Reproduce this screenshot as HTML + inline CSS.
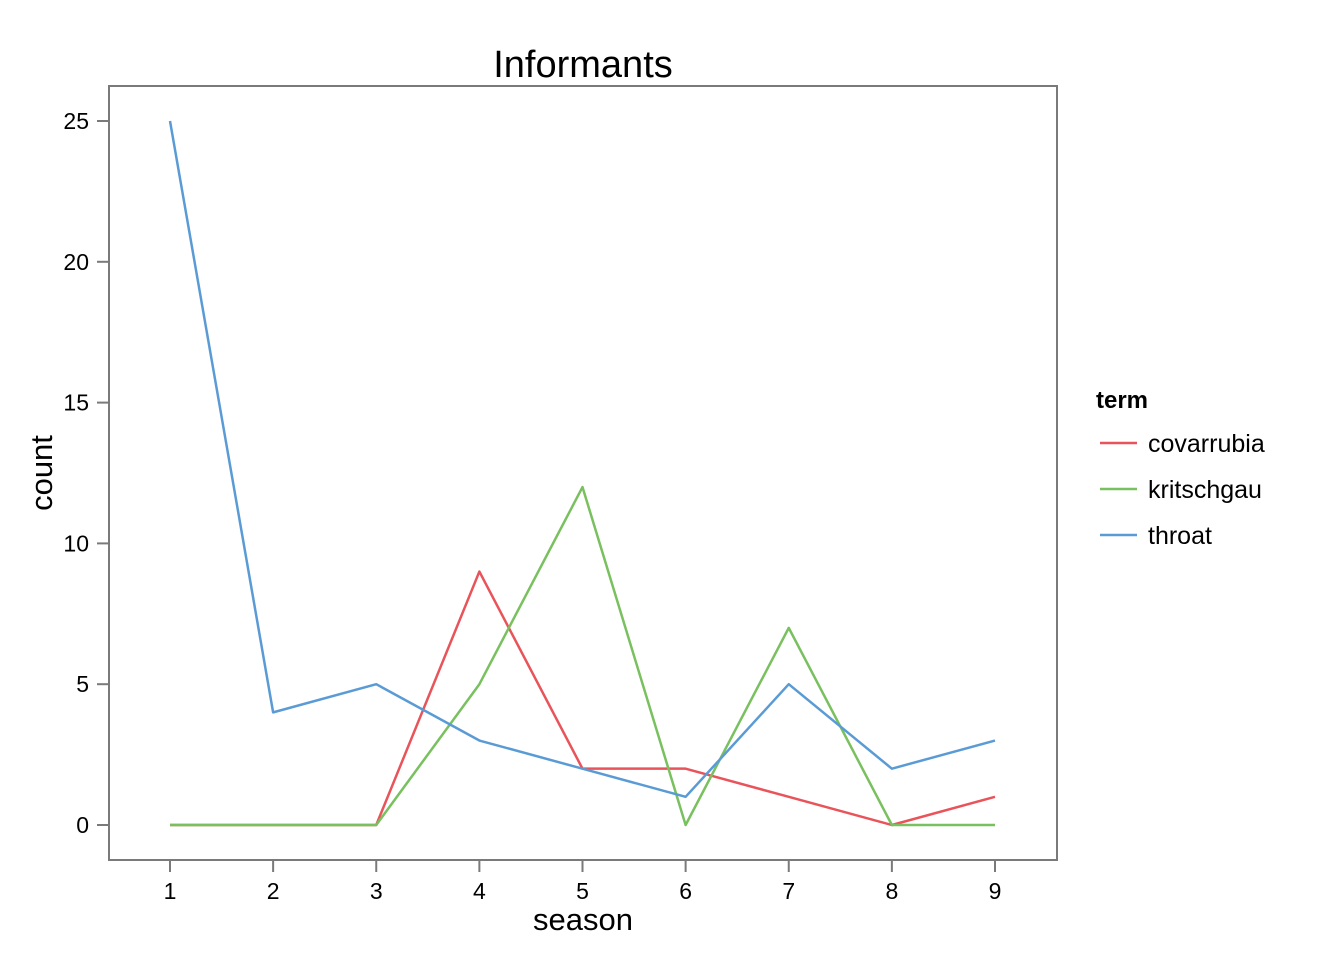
<!DOCTYPE html>
<html><head><meta charset="utf-8"><style>
html,body{margin:0;padding:0;background:#fff;}
svg{display:block;font-family:"Liberation Sans",sans-serif;}
</style></head><body>
<svg id="chart" width="1344" height="960" viewBox="0 0 1344 960">
<text x="583" y="77" font-size="38" text-anchor="middle">Informants</text>
<rect x="109" y="86" width="948" height="774" fill="none" stroke="#7a7a7a" stroke-width="2"/>
<g id="axes"></g>
<g id="series"></g>
<text x="583" y="930" font-size="31" text-anchor="middle">season</text>
<text transform="translate(52,473) rotate(-90)" font-size="31" text-anchor="middle">count</text>
<g id="legend"></g>
</svg>
<script>
const seasons = [1,2,3,4,5,6,7,8,9];
const covarrubia = [0,0,0,9,2,2,1,0,1];
const kritschgau = [0,0,0,5,12,0,7,0,0];
const throat = [25,4,5,3,2,1,5,2,3];
const yTicks = [0,5,10,15,20,25];
const seriesNames = ["covarrubia","kritschgau","throat"];
const seriesColors = ["#e8545a","#79c05f","#5a9bd5"];

const NS="http://www.w3.org/2000/svg";
function xs(v){return 170+(v-1)*(995-170)/8;}
function ys(v){return 825-v*(825-121)/25;}
function mk(tag,attrs,parent){const e=document.createElementNS(NS,tag);for(const k in attrs)e.setAttribute(k,attrs[k]);parent.appendChild(e);return e;}
const axes=document.getElementById('axes');
yTicks.forEach(t=>{
  const l=mk('line',{x1:97,x2:109,y1:ys(t),y2:ys(t),stroke:'#7a7a7a','stroke-width':2},axes);
  
  
  const tx=mk('text',{x:89,y:ys(t)+8,'font-size':23,'text-anchor':'end'},axes);
  tx.textContent=t;
  
  
});
seasons.forEach(s=>{
  const l=mk('line',{x1:xs(s),x2:xs(s),y1:860,y2:872,stroke:'#7a7a7a','stroke-width':2},axes);
  
  
  const tx=mk('text',{x:xs(s),y:899,'font-size':23,'text-anchor':'middle'},axes);
  tx.textContent=s;
  
  
});
const data=[covarrubia,kritschgau,throat];
const sg=document.getElementById('series');
data.forEach((arr,i)=>{
  const pts=arr.map((v,j)=>xs(seasons[j])+','+ys(v)).join(' ');
  const p=mk('polyline',{points:pts,fill:'none',stroke:seriesColors[i],'stroke-width':2.5,'stroke-linejoin':'round'},sg);
  
  
});
const lg=document.getElementById('legend');
const lt=mk('text',{x:1096,y:408,'font-size':24,'font-weight':'bold'},lg);
lt.textContent='term';


seriesNames.forEach((n,i)=>{
  const y=443+i*46;
  const g=mk('g',{},lg);
  
  
  mk('line',{x1:1100,x2:1137,y1:y,y2:y,stroke:seriesColors[i],'stroke-width':2.5},g);
  const t=mk('text',{x:1148,y:y+9,'font-size':25},g);
  t.textContent=n;
});
</script>
</body></html>
